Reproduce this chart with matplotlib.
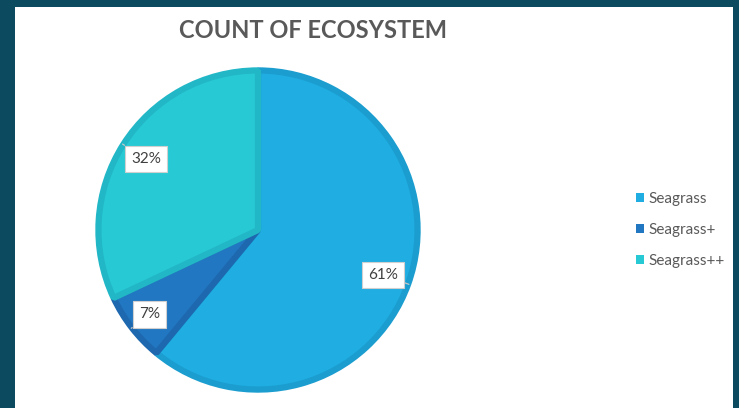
import matplotlib
matplotlib.use("Agg")
import matplotlib.pyplot as plt
from matplotlib.patches import Rectangle
import numpy as np

# Chart data
categories = ["Seagrass", "Seagrass+", "Seagrass++"]
shares = [61, 7, 32]
label_texts = ["61%", "7%", "32%"]

fill_colors = ["#1FADE2", "#2277C2", "#27CAD4"]
edge_colors = ["#1B9DCF", "#1D68AE", "#22B7C7"]

W, H, DPI = 739, 408, 100
fig = plt.figure(figsize=(W / DPI, H / DPI), dpi=DPI, facecolor="#0B4A5F")

# white chart panel inside the dark frame
panel = Rectangle((15 / W, 0), (733 - 15) / W, (H - 7) / H,
                  transform=fig.transFigure, facecolor="white",
                  edgecolor="none", zorder=-10)
fig.patches.append(panel)

# pie axes (centre ~ (258, 230) px, radius ~ 162 px)
cx, cy, r = 258, 230, 162
ax = fig.add_axes([(cx - r) / W, (H - cy - r) / H, 2 * r / W, 2 * r / H])
ax.set_facecolor("none")
ax.set_zorder(5)

wedges, _ = ax.pie(shares, colors=fill_colors, startangle=90,
                   counterclock=False, radius=0.985,
                   wedgeprops=dict(linewidth=4.5, joinstyle="bevel"))
for w, ec in zip(wedges, edge_colors):
    w.set_edgecolor(ec)

ax.set_xlim(-1, 1)
ax.set_ylim(-1, 1)
ax.set_aspect("equal")
ax.axis("off")

# data labels in white callout boxes
label_radius = [0.82, 0.85, 0.82]
for w, txt, lr in zip(wedges, label_texts, label_radius):
    mid = np.deg2rad((w.theta1 + w.theta2) / 2)
    edge_pt = (np.cos(mid) * 0.99, np.sin(mid) * 0.99)
    lab_pt = (np.cos(mid) * lr, np.sin(mid) * lr)
    ax.annotate(txt, xy=edge_pt, xytext=lab_pt, ha="center", va="center",
                fontsize=11, family="Lato", color="#404040",
                bbox=dict(boxstyle="square,pad=0.4", facecolor="white",
                          edgecolor="#D0D0D0", linewidth=0.8),
                arrowprops=dict(arrowstyle="-", color="#C8C8C8", lw=0.9,
                                shrinkA=0, shrinkB=0))

# title
fig.text(313 / W, 1 - 31 / H, "COUNT OF ECOSYSTEM", ha="center", va="center",
         fontsize=17, fontweight="bold", family="Lato", color="#595959")

# legend
handles = [Rectangle((0, 0), 1, 1, facecolor=c, edgecolor="none") for c in fill_colors]
leg = fig.legend(handles, categories, loc="center left",
                 bbox_to_anchor=(636 / W, 1 - 230 / H),
                 bbox_transform=fig.transFigure, frameon=False,
                 handlelength=0.55, handleheight=0.55, handletextpad=0.25,
                 labelspacing=1.1, borderpad=0, borderaxespad=0,
                 prop=dict(family="Lato", size=11))
for t in leg.get_texts():
    t.set_color("#595959")

fig.savefig("out.png", dpi=DPI, facecolor=fig.get_facecolor())
